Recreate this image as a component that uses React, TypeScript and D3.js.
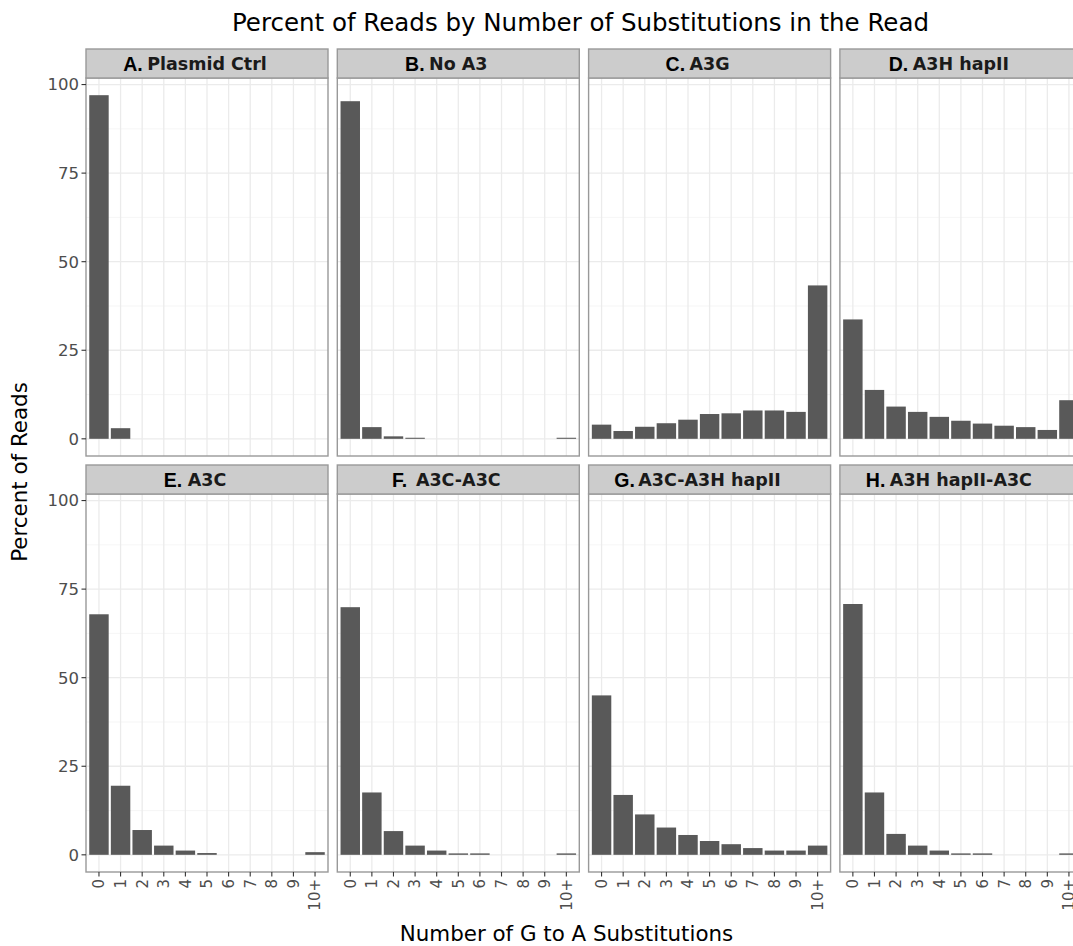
import React, { useEffect, useRef } from "react";
import * as d3 from "d3";

const categories = ["0", "1", "2", "3", "4", "5", "6", "7", "8", "9", "10+"];
const panelLetters = ["A.", "B.", "C.", "D.", "E.", "F.", "G.", "H."];
const panelNames = [
  "Plasmid Ctrl",
  "No A3",
  "A3G",
  "A3H hapII",
  "A3C",
  "A3C-A3C",
  "A3C-A3H hapII",
  "A3H hapII-A3C",
];

// percent of reads per substitution count, one array per panel
const plasmidCtrl = [97.0, 3.0, 0, 0, 0, 0, 0, 0, 0, 0, 0];
const noA3 = [95.3, 3.3, 0.7, 0.3, 0, 0, 0, 0, 0, 0, 0.3];
const a3g = [4.0, 2.2, 3.4, 4.4, 5.4, 7.0, 7.2, 8.0, 8.0, 7.6, 43.3];
const a3hHapII = [33.7, 13.8, 9.1, 7.6, 6.2, 5.1, 4.3, 3.7, 3.3, 2.5, 10.9];
const a3c = [67.9, 19.5, 7.0, 2.6, 1.2, 0.5, 0, 0, 0, 0, 0.75];
const a3cA3c = [69.9, 17.6, 6.7, 2.6, 1.2, 0.4, 0.4, 0, 0, 0, 0.4];
const a3cA3hHapII = [45.0, 16.9, 11.4, 7.7, 5.6, 3.9, 3.0, 1.9, 1.2, 1.2, 2.6];
const a3hHapIIA3c = [70.8, 17.6, 5.9, 2.6, 1.2, 0.4, 0.4, 0, 0, 0, 0.4];

const panelValues = [plasmidCtrl, noA3, a3g, a3hHapII, a3c, a3cA3c, a3cA3hHapII, a3hHapIIA3c];

const yTicks = [0, 25, 50, 75, 100];
const yMinor = [12.5, 37.5, 62.5, 87.5];

const W = 1073;
const H = 946;
const FONT = "DejaVu Sans, sans-serif";

const ChartPanel: React.FC = () => {
  const svgRef = useRef<SVGSVGElement>(null);

  useEffect(() => {
    if (!svgRef.current) return;
    const svg = d3.select(svgRef.current);
    svg.selectAll("*").remove();

    const panelW = 242;
    const panelH = 378;
    const stripH = 29;
    const colStep = 251.3;
    const left0 = 86;
    const stripTops = [49, 465];

    const yMax = d3.max(panelValues.flat()) as number;
    const pad = yMax * 0.05;

    svg.append("rect").attr("width", W).attr("height", H).attr("fill", "white");

    panelValues.forEach((values, idx) => {
      const row = Math.floor(idx / 4);
      const col = idx % 4;
      const x0 = left0 + col * colStep;
      const stripTop = stripTops[row];
      const top = stripTop + stripH;
      const bottom = top + panelH;

      const x = d3
        .scalePoint<string>()
        .domain(categories)
        .range([x0, x0 + panelW])
        .padding(0.6);
      const barW = x.step() * 0.9;

      const y = d3.scaleLinear().domain([-pad, yMax + pad]).range([bottom, top]);

      const g = svg.append("g");

      g.append("rect")
        .attr("x", x0)
        .attr("y", top)
        .attr("width", panelW)
        .attr("height", panelH)
        .attr("fill", "white");

      // minor grid
      g.selectAll(".minor")
        .data(yMinor)
        .join("line")
        .attr("x1", x0)
        .attr("x2", x0 + panelW)
        .attr("y1", (d) => y(d))
        .attr("y2", (d) => y(d))
        .attr("stroke", "#f2f2f2")
        .attr("stroke-width", 0.7);

      // major grid
      g.selectAll(".hmajor")
        .data(yTicks)
        .join("line")
        .attr("x1", x0)
        .attr("x2", x0 + panelW)
        .attr("y1", (d) => y(d))
        .attr("y2", (d) => y(d))
        .attr("stroke", "#ebebeb")
        .attr("stroke-width", 1.3);

      g.selectAll(".vmajor")
        .data(categories)
        .join("line")
        .attr("x1", (d) => x(d) as number)
        .attr("x2", (d) => x(d) as number)
        .attr("y1", top)
        .attr("y2", bottom)
        .attr("stroke", "#ebebeb")
        .attr("stroke-width", 1.3);

      // bars
      g.selectAll(".bar")
        .data(values.map((v, i) => ({ cat: categories[i], v })).filter((d) => d.v > 0))
        .join("rect")
        .attr("x", (d) => (x(d.cat) as number) - barW / 2)
        .attr("y", (d) => y(d.v))
        .attr("width", barW)
        .attr("height", (d) => y(0) - y(d.v))
        .attr("fill", "#595959");

      // panel border
      g.append("rect")
        .attr("x", x0)
        .attr("y", top)
        .attr("width", panelW)
        .attr("height", panelH)
        .attr("fill", "none")
        .attr("stroke", "#999999")
        .attr("stroke-width", 1.4);

      // strip
      g.append("rect")
        .attr("x", x0)
        .attr("y", stripTop)
        .attr("width", panelW)
        .attr("height", stripH)
        .attr("fill", "#cccccc")
        .attr("stroke", "#999999")
        .attr("stroke-width", 1.4);

      const cx = x0 + panelW / 2;
      const label = g
        .append("text")
        .attr("x", cx)
        .attr("y", stripTop + stripH / 2 + 6.5)
        .attr("text-anchor", "middle")
        .attr("font-family", FONT)
        .attr("font-weight", "bold")
        .attr("font-size", 17.5)
        .attr("fill", "#1a1a1a")
        .text(panelNames[idx]);
      const lw = (label.node() as SVGTextElement).getComputedTextLength();

      g.append("text")
        .attr("x", cx - lw / 2 - 24)
        .attr("y", stripTop + stripH / 2 + 7)
        .attr("font-family", "Liberation Sans, Arial, sans-serif")
        .attr("font-weight", "bold")
        .attr("font-size", 19.5)
        .attr("fill", "#000")
        .text(panelLetters[idx]);

      // y axis on first column
      if (col === 0) {
        const ya = g.append("g");
        yTicks.forEach((t) => {
          ya.append("line")
            .attr("x1", x0 - 4.5)
            .attr("x2", x0)
            .attr("y1", y(t))
            .attr("y2", y(t))
            .attr("stroke", "#333333")
            .attr("stroke-width", 1.1);
          ya.append("text")
            .attr("x", x0 - 7)
            .attr("y", y(t))
            .attr("dy", "0.36em")
            .attr("text-anchor", "end")
            .attr("font-family", FONT)
            .attr("font-size", 16.5)
            .attr("fill", "#4d4d4d")
            .text(String(t));
        });
      }

      // x axis on bottom row
      if (row === 1) {
        categories.forEach((c) => {
          const px = x(c) as number;
          g.append("line")
            .attr("x1", px)
            .attr("x2", px)
            .attr("y1", bottom)
            .attr("y2", bottom + 4.5)
            .attr("stroke", "#333333")
            .attr("stroke-width", 1.1);
          g.append("text")
            .attr("transform", `translate(${px},${bottom + 7}) rotate(-90)`)
            .attr("dy", "0.36em")
            .attr("text-anchor", "end")
            .attr("font-family", FONT)
            .attr("font-size", 15)
            .attr("fill", "#4d4d4d")
            .text(c);
        });
      }
    });

    svg
      .append("text")
      .attr("x", 580.5)
      .attr("y", 31)
      .attr("text-anchor", "middle")
      .attr("font-family", FONT)
      .attr("font-size", 24.5)
      .attr("fill", "#000")
      .text("Percent of Reads by Number of Substitutions in the Read");

    svg
      .append("text")
      .attr("x", 566.5)
      .attr("y", 941)
      .attr("text-anchor", "middle")
      .attr("font-family", FONT)
      .attr("font-size", 21.4)
      .attr("fill", "#000")
      .text("Number of G to A Substitutions");

    svg
      .append("text")
      .attr("transform", "translate(27,472) rotate(-90)")
      .attr("text-anchor", "middle")
      .attr("font-family", FONT)
      .attr("font-size", 21.4)
      .attr("fill", "#000")
      .text("Percent of Reads");
  }, []);

  return <svg ref={svgRef} width={W} height={H} style={{ position: "absolute", left: 0, top: 0 }} />;
};

export default function App() {
  return <ChartPanel />;
}
